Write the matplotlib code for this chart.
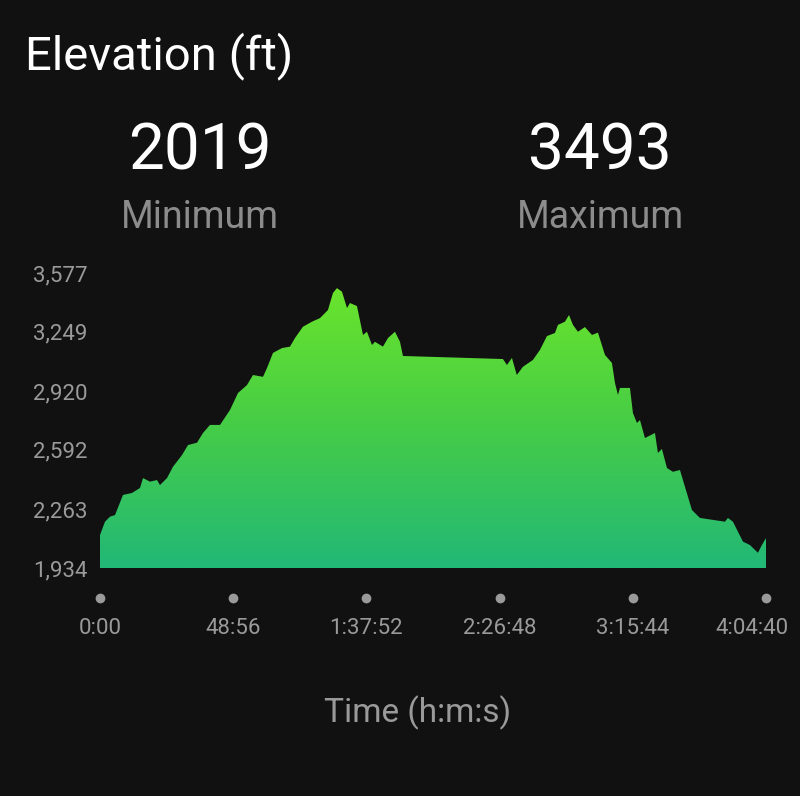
import matplotlib.pyplot as plt
import matplotlib.transforms as mtransforms
import numpy as np
from matplotlib.colors import LinearSegmentedColormap
from matplotlib.ticker import FuncFormatter

plt.rcParams['font.family'] = ['Roboto', 'DejaVu Sans']

# elapsed time (s) and elevation (ft)
elapsed_s = [0, 110, 220, 331, 507, 705, 882, 948, 1102, 1256, 1322, 1477, 1609,
             1807, 1940, 2138, 2270, 2424, 2645, 2865, 3042, 3240, 3372, 3593, 3681,
             3813, 4011, 4188, 4298, 4474, 4672, 4849, 5025, 5135, 5223, 5334, 5444,
             5510, 5664, 5797, 5885, 5995, 6061, 6237, 6348, 6502, 6612, 6678, 8882,
             8970, 9080, 9187, 9323, 9543, 9698, 9852, 10028, 10094, 10249, 10337,
             10425, 10535, 10689, 10844, 10976, 11130, 11284, 11351, 11417, 11461,
             11681, 11747, 11835, 11902, 12012, 12232, 12298, 12386, 12497, 12629,
             12783, 12893, 13048, 13224, 13775, 13841, 13951, 14172, 14326, 14502,
             14590, 14680]
elevation_ft = [2118, 2192, 2220, 2229, 2341, 2352, 2380, 2435, 2415, 2424, 2396, 2435,
                2498, 2563, 2619, 2632, 2686, 2731, 2731, 2814, 2909, 2953, 3009, 2999,
                3048, 3132, 3159, 3167, 3215, 3278, 3306, 3326, 3371, 3466, 3493, 3473,
                3382, 3410, 3393, 3232, 3250, 3176, 3194, 3167, 3215, 3250, 3194, 3115,
                3098, 3065, 3104, 3009, 3055, 3093, 3149, 3226, 3243, 3288, 3306, 3343,
                3288, 3250, 3276, 3232, 3245, 3121, 3076, 2965, 2898, 2937, 2937, 2797,
                2742, 2758, 2658, 2686, 2575, 2597, 2491, 2470, 2480, 2387, 2257, 2213,
                2192, 2213, 2192, 2081, 2062, 2019, 2062, 2101]

y_ticks = [1934, 2263, 2592, 2920, 3249, 3577]
x_ticks = [0, 2936, 5872, 8808, 11744, 14680]
x_tick_labels = ['0:00', '48:56', '1:37:52', '2:26:48', '3:15:44', '4:04:40']
min_elev = 2019
max_elev = 3493

BG = '#111111'
GREY = '#9a9a9a'

fig = plt.figure(figsize=(8, 7.96), dpi=100, facecolor=BG)
ax = fig.add_axes([0.125, 0.2864, 0.8325, 0.3706])
ax.set_facecolor(BG)

# gradient fill clipped to the area under the profile
area = ax.fill_between(elapsed_s, elevation_ft, y_ticks[0], color='none', lw=0)
cmap = LinearSegmentedColormap.from_list('elev', ['#22b877', '#45cc48', '#6ae42c'])
grad = np.linspace(0, 1, 256).reshape(-1, 1)
img = ax.imshow(grad, cmap=cmap, origin='lower', aspect='auto',
                extent=[elapsed_s[0], elapsed_s[-1], y_ticks[0], max_elev], zorder=2)
img.set_clip_path(area.get_paths()[0], transform=ax.transData)

ax.set_xlim(elapsed_s[0], elapsed_s[-1])
ax.set_ylim(y_ticks[0], y_ticks[-1])
for s in ax.spines.values():
    s.set_visible(False)

ax.set_yticks(y_ticks)
ax.yaxis.set_major_formatter(FuncFormatter(lambda v, p: f'{v:,.0f}'))
ax.set_xticks(x_ticks)
ax.set_xticklabels(x_tick_labels)
ax.tick_params(axis='y', length=0, pad=9, labelsize=16, labelcolor=GREY)
ax.tick_params(axis='x', length=0, pad=36, labelsize=16, labelcolor=GREY)

# last time label is pulled in so it stays inside the card
last = ax.get_xticklabels()[-1]
last.set_transform(last.get_transform()
                   + mtransforms.ScaledTranslation(-0.14, 0, fig.dpi_scale_trans))

# dots above the time labels
trans = mtransforms.blended_transform_factory(ax.transData, ax.transAxes)
ax.plot(x_ticks, [-30 / 295] * len(x_ticks), 'o', color=GREY, ms=6,
        transform=trans, clip_on=False)

fig.text(25 / 800, 1 - 56 / 796, 'Elevation (ft)', fontsize=34, color='white',
         ha='left', va='center')
fig.text(200 / 800, 1 - 152 / 796, str(min_elev), fontsize=46, color='white',
         ha='center', va='center')
fig.text(600 / 800, 1 - 152 / 796, str(max_elev), fontsize=46, color='white',
         ha='center', va='center')
fig.text(200 / 800, 1 - 218 / 796, 'Minimum', fontsize=27, color='#8c8c8c',
         ha='center', va='center')
fig.text(600 / 800, 1 - 218 / 796, 'Maximum', fontsize=27, color='#8c8c8c',
         ha='center', va='center')
fig.text(418 / 800, 1 - 713 / 796, 'Time (h:m:s)', fontsize=24, color=GREY,
         ha='center', va='center')

plt.savefig('out.png', dpi=100, facecolor=BG)
